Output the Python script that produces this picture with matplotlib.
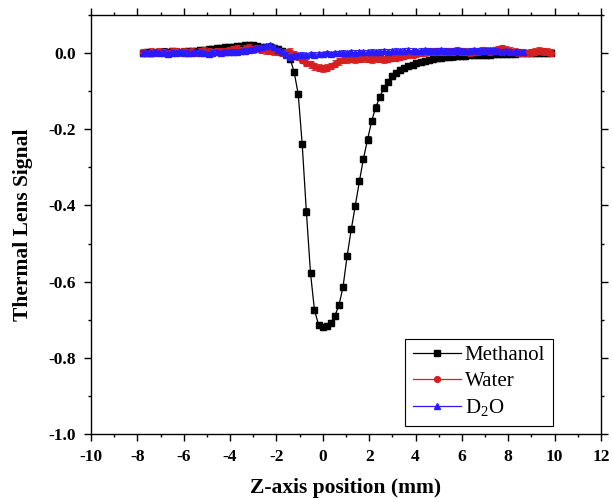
import matplotlib
matplotlib.use("Agg")
import matplotlib.pyplot as plt
from matplotlib.ticker import MultipleLocator, FormatStrFormatter

# Z-axis positions (mm), shared by all three scans
z_pos = [
    -7.75, -7.57, -7.40, -7.22, -7.05, -6.87, -6.69, -6.52, -6.34, -6.17,
    -5.99, -5.81, -5.64, -5.46, -5.29, -5.11, -4.93, -4.76, -4.58, -4.41,
    -4.23, -4.05, -3.88, -3.70, -3.53, -3.35, -3.17, -3.00, -2.82, -2.65,
    -2.47, -2.29, -2.12, -1.94, -1.77, -1.59, -1.41, -1.24, -1.06, -0.89,
    -0.71, -0.53, -0.36, -0.18, -0.01, 0.17, 0.35, 0.52, 0.70, 0.87,
    1.05, 1.23, 1.40, 1.58, 1.75, 1.93, 2.11, 2.28, 2.46, 2.63,
    2.81, 2.99, 3.16, 3.34, 3.51, 3.69, 3.87, 4.04, 4.22, 4.39,
    4.57, 4.75, 4.92, 5.10, 5.27, 5.45, 5.63, 5.80, 5.98, 6.15,
    6.33, 6.51, 6.68, 6.86, 7.03, 7.21, 7.39, 7.56, 7.74, 7.91,
    8.09, 8.27, 8.44, 8.62, 8.79, 8.97, 9.15, 9.32, 9.50, 9.67,
    9.85,
]

methanol = [
    0.000, 0.002, 0.001, 0.003, 0.002, 0.004, 0.003, 0.005, 0.004, 0.003,
    0.004, 0.005, 0.006, 0.005, 0.007, 0.008, 0.010, 0.011, 0.012, 0.013,
    0.015, 0.016, 0.017, 0.018, 0.019, 0.020, 0.022, 0.020, 0.018, 0.017,
    0.016, 0.015, 0.014, 0.010, 0.005, -0.002, -0.015, -0.049, -0.108, -0.239,
    -0.416, -0.578, -0.675, -0.714, -0.718, -0.716, -0.708, -0.690, -0.661, -0.615,
    -0.532, -0.462, -0.401, -0.336, -0.278, -0.227, -0.178, -0.143, -0.115, -0.092,
    -0.076, -0.061, -0.052, -0.045, -0.039, -0.034, -0.031, -0.027, -0.024, -0.020,
    -0.018, -0.016, -0.013, -0.012, -0.011, -0.010, -0.009, -0.008, -0.008, -0.007,
    -0.006, -0.006, -0.005, -0.005, -0.004, -0.004, -0.003, -0.003, -0.003, -0.002,
    -0.002, -0.002, -0.001, -0.001, -0.001, 0.000, 0.000, -0.001, 0.000, 0.000,
    0.000,
]

water = [
    0.002, 0.000, 0.003, 0.001, 0.004, 0.002, -0.001, 0.003, 0.005, 0.002,
    0.004, 0.001, 0.003, 0.000, 0.004, 0.006, 0.003, 0.002, 0.005, 0.004,
    0.003, 0.006, 0.010, 0.012, 0.008, 0.011, 0.014, 0.010, 0.012, 0.009,
    0.007, 0.006, 0.005, 0.003, 0.000, 0.002, 0.004, -0.003, -0.010, -0.018,
    -0.025, -0.030, -0.035, -0.038, -0.040, -0.038, -0.034, -0.028, -0.022, -0.018,
    -0.016, -0.015, -0.016, -0.015, -0.014, -0.015, -0.016, -0.014, -0.015, -0.016,
    -0.015, -0.013, -0.012, -0.010, -0.007, -0.005, -0.004, -0.002, 0.000, 0.002,
    0.003, 0.004, 0.005, 0.004, 0.003, 0.005, 0.004, 0.006, 0.005, 0.003,
    0.002, 0.004, 0.005, 0.007, 0.006, 0.005, 0.008, 0.010, 0.012, 0.009,
    0.006, 0.004, 0.002, 0.001, 0.000, 0.002, 0.004, 0.006, 0.005, 0.003,
    0.001,
]

d2o = [
    0.000, 0.001, -0.001, 0.002, 0.000, 0.001, -0.002, 0.001, 0.000, 0.002,
    0.001, -0.001, 0.000, 0.002, 0.001, 0.000, -0.002, 0.001, 0.002, 0.000,
    0.003, 0.002, 0.004, 0.003, 0.005, 0.006, 0.008, 0.010, 0.012, 0.015,
    0.018, 0.020, 0.016, 0.008, 0.002, -0.004, -0.010, -0.008, -0.006, -0.004,
    -0.005, -0.003, -0.004, -0.002, -0.003, -0.001, -0.002, 0.000, -0.001, 0.001,
    0.000, 0.002, 0.001, 0.002, 0.003, 0.002, 0.004, 0.003, 0.004, 0.005,
    0.004, 0.005, 0.006, 0.005, 0.006, 0.007, 0.006, 0.005, 0.006, 0.007,
    0.006, 0.005, 0.006, 0.007, 0.006, 0.005, 0.006, 0.007, 0.006, 0.005,
    0.006, 0.007, 0.006, 0.005, 0.006, 0.007, 0.006, 0.005, 0.004, 0.005,
    0.004, 0.003, 0.004, 0.003,
]

methanol_err = 0.008
water_err = 0.009
d2o_err = 0.006

RED = "#d42020"
BLUE = "#2a1aff"

plt.rcParams["font.family"] = "Liberation Serif"
plt.rcParams["axes.unicode_minus"] = False

fig = plt.figure(figsize=(6.12, 4.99), dpi=100)
ax = fig.add_axes([0.1487, 0.1303, 0.8333, 0.8397])

series = [
    (z_pos, methanol, methanol_err, "black", "s", "Methanol"),
    (z_pos, water, water_err, RED, "o", "Water"),
    (z_pos[:len(d2o)], d2o, d2o_err, BLUE, "^", r"D$_\mathregular{2}$O"),
]
for xs, ys, err, color, marker, label in series:
    ax.errorbar(xs, ys, yerr=err, fmt="none", ecolor=color, elinewidth=0.8,
                capsize=2.5, capthick=0.8, alpha=0.85)
    ax.plot(xs, ys, marker=marker, color=color, markersize=4.2, lw=0.9,
            label=label)

ax.set_xlim(-10, 12)
ax.set_ylim(-1.0, 0.1)
ax.xaxis.set_major_locator(MultipleLocator(2))
ax.xaxis.set_minor_locator(MultipleLocator(1))
ax.yaxis.set_major_locator(MultipleLocator(0.2))
ax.yaxis.set_minor_locator(MultipleLocator(0.1))
ax.yaxis.set_major_formatter(FormatStrFormatter("%.1f"))
ax.tick_params(which="both", direction="out", top=True, right=True,
               labeltop=False, labelright=False, width=1.0)
ax.tick_params(which="major", length=5, labelsize=12.5, pad=6)
ax.tick_params(which="minor", length=2.5)
for lab in ax.get_xticklabels() + ax.get_yticklabels():
    lab.set_fontweight("bold")
for sp in ax.spines.values():
    sp.set_linewidth(1.0)

ax.set_xlabel("Z-axis position (mm)", fontsize=15.5, fontweight="bold", labelpad=9)
ax.set_ylabel("Thermal Lens Signal", fontsize=15.5, fontweight="bold", labelpad=11)

leg = ax.legend(loc="lower right", bbox_to_anchor=(0.905, 0.018), fontsize=15,
                handlelength=2.3, fancybox=False, edgecolor="black",
                framealpha=1, borderpad=0.35, labelspacing=0.3,
                handletextpad=0.2, borderaxespad=0.0)
leg.get_frame().set_linewidth(0.8)

fig.savefig("out.png", dpi=100, facecolor="white")
